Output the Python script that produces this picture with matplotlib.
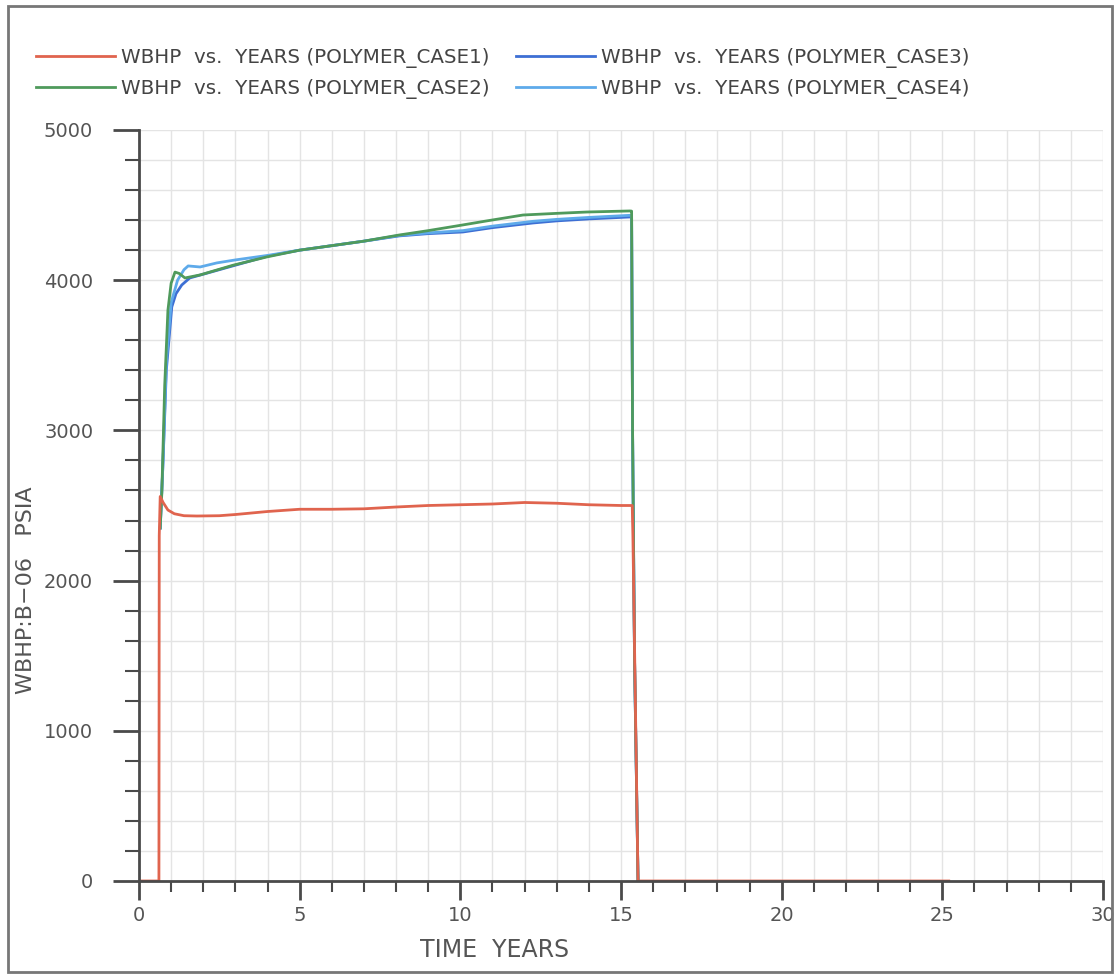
import matplotlib
matplotlib.use('Agg')
import matplotlib.pyplot as plt
from matplotlib.patches import Rectangle
from matplotlib.ticker import MultipleLocator
import numpy as np

# WBHP for well B-06, four polymer cases
t_case1 = [0, 0.62, 0.63, 0.66, 0.75, 0.9, 1.1, 1.4, 1.8, 2.5, 3, 4, 5, 6, 7, 8, 9, 10, 11, 12, 13, 14, 15, 15.35, 15.37, 15.53, 20, 25.2]
p_case1 = [0, 0, 2300, 2560, 2520, 2470, 2445, 2432, 2430, 2432, 2440, 2460, 2475, 2475, 2478, 2490, 2500, 2505, 2510, 2520, 2515, 2505, 2500, 2500, 2300, 0, 0, 0]

t_case2 = [0.66, 0.71, 0.8, 0.9, 1.0, 1.12, 1.25, 1.43, 1.9, 2.93, 3.98, 5, 6, 7, 8.1, 9, 10.08, 10.8, 11.95, 13, 13.94, 15.28, 15.33, 15.36, 15.42, 15.53]
p_case2 = [2350, 2583, 3300, 3800, 3980, 4054, 4045, 4015, 4035, 4100, 4155, 4200, 4230, 4260, 4301, 4330, 4368, 4394, 4434, 4445, 4454, 4461, 4460, 3000, 1500, 0]

t_case3 = [0.66, 0.75, 0.85, 1.02, 1.15, 1.33, 1.58, 2, 3, 4, 5, 6, 7, 8.1, 9, 10.08, 11, 12.26, 13, 14, 15.28, 15.33, 15.36, 15.42, 15.53]
p_case3 = [2350, 2803, 3400, 3822, 3910, 3968, 4015, 4040, 4100, 4160, 4200, 4230, 4260, 4295, 4310, 4321, 4350, 4381, 4395, 4408, 4421, 4420, 3000, 1500, 0]

t_case4 = [0.66, 0.74, 0.85, 1.0, 1.2, 1.4, 1.53, 1.9, 2.42, 3, 4, 5, 6, 7, 8.1, 9, 10.08, 11, 12.26, 13, 14, 15.28, 15.33, 15.36, 15.42, 15.53]
p_case4 = [2350, 2750, 3450, 3850, 4000, 4070, 4095, 4088, 4115, 4135, 4165, 4200, 4230, 4260, 4298, 4315, 4330, 4360, 4392, 4405, 4418, 4432, 4430, 3000, 1500, 0]

labels = ['WBHP  vs.  YEARS (POLYMER_CASE1)', 'WBHP  vs.  YEARS (POLYMER_CASE2)',
          'WBHP  vs.  YEARS (POLYMER_CASE3)', 'WBHP  vs.  YEARS (POLYMER_CASE4)']
colors = ['#e0644e', '#4f9a5c', '#3d6fd4', '#5eaaea']

fig = plt.figure(figsize=(11.16, 9.77), dpi=100)
ax = fig.add_axes([139/1116, 1 - 881/977, (1103 - 139)/1116, (881 - 130)/977])

# outer frame
fig.patches.append(Rectangle((8/1116, 1 - 972/977), 1104/1116, 966/977, transform=fig.transFigure,
                             fill=False, edgecolor='#777777', linewidth=2))

ax.plot(t_case3, p_case3, color=colors[2], lw=2, zorder=3)
ax.plot(t_case4, p_case4, color=colors[3], lw=2, zorder=3)
ax.plot(t_case2, p_case2, color=colors[1], lw=2, zorder=4)
ax.plot(t_case1, p_case1, color=colors[0], lw=2, zorder=5)

ax.set_xlim(0, 30)
ax.set_ylim(0, 5000)
ax.xaxis.set_major_locator(MultipleLocator(5))
ax.xaxis.set_minor_locator(MultipleLocator(1))
ax.yaxis.set_major_locator(MultipleLocator(1000))
ax.yaxis.set_minor_locator(MultipleLocator(200))
ax.grid(True, which='both', color='#e4e4e4', lw=1, zorder=0)

for s in ['top', 'right']:
    ax.spines[s].set_visible(False)
for s in ['left', 'bottom']:
    ax.spines[s].set_color('#4a4a4a')
    ax.spines[s].set_linewidth(2)
    ax.spines[s].set_zorder(6)

ax.tick_params(axis='y', which='major', direction='out', length=19, width=2, color='#4a4a4a',
               labelsize=14, labelcolor='#555555', pad=14)
ax.tick_params(axis='y', which='minor', direction='out', length=10, width=1.5, color='#4a4a4a')
ax.tick_params(axis='x', which='major', direction='out', length=14, width=2, color='#4a4a4a',
               labelsize=14, labelcolor='#555555', pad=4)
ax.tick_params(axis='x', which='minor', direction='out', length=8, width=1.5, color='#4a4a4a')
ax.set_xticks(range(0, 31, 5))

ax.set_xlabel('TIME  YEARS', fontsize=17, color='#555555')
ax.xaxis.set_label_coords((495 - 139) / 964, -(938 - 881) / 751)
ax.set_ylabel('WBHP:B\u221206   PSIA', fontsize=16, color='#555555')
ax.yaxis.set_label_coords((36 - 139) / 964, (881 - 590) / 751)

handles = [plt.Line2D([], [], color=c, lw=2) for c in colors]
fig.legend(handles, labels, ncol=2, loc='upper left', bbox_to_anchor=(18/1116, 1 - 30/977),
           frameon=False, prop={'size': 14.3},
           handlelength=4.0, handletextpad=0.3, columnspacing=1.3, labelspacing=0.55,
           labelcolor='#444444')

fig.savefig('out.png', dpi=100)
